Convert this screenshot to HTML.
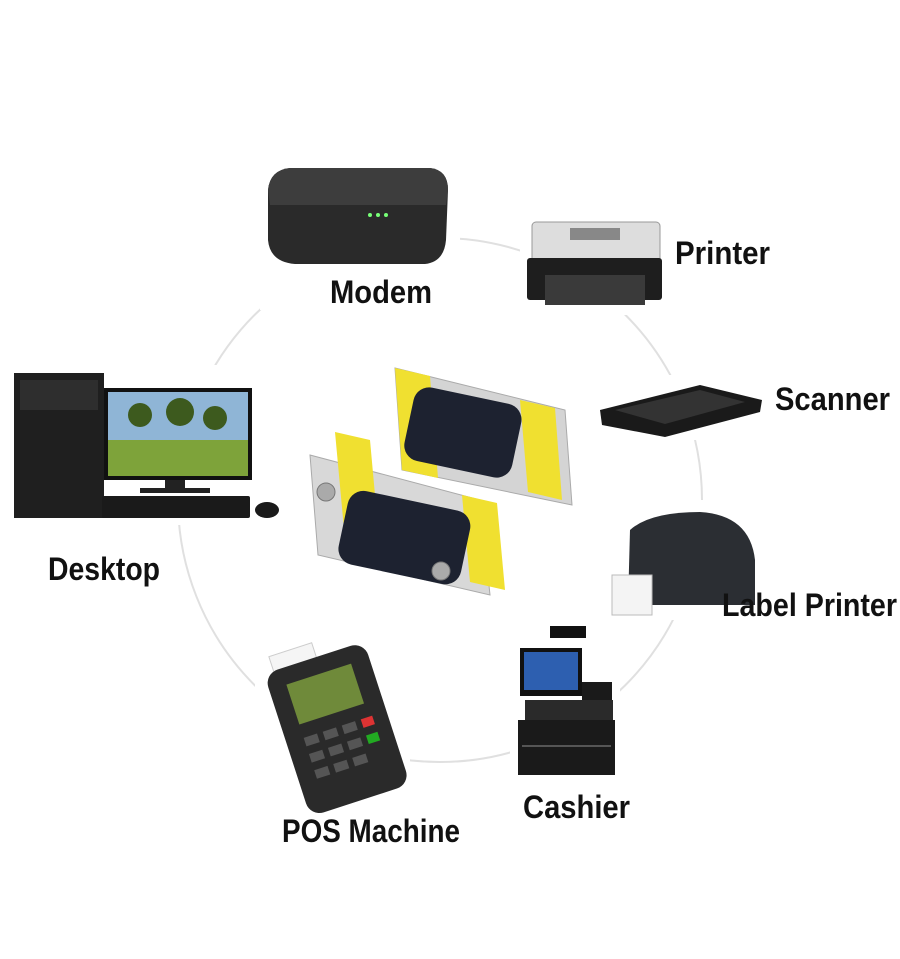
<!DOCTYPE html>
<html><head><meta charset="utf-8">
<style>
html,body{margin:0;padding:0;background:#fff;}
svg{display:block}
text{font-family:"Liberation Sans Narrow","Liberation Sans",sans-serif;font-weight:bold;fill:#111;}
</style></head>
<body>
<svg width="900" height="959" viewBox="0 0 900 959" xmlns="http://www.w3.org/2000/svg">
<rect width="900" height="959" fill="#fff"/>
<circle cx="440" cy="500" r="262" fill="none" stroke="#e0e0e0" stroke-width="2"/>
<g fill="#fff">
<rect x="260" y="150" width="200" height="160"/>
<rect x="520" y="210" width="150" height="105"/>
<rect x="590" y="375" width="180" height="65"/>
<rect x="10" y="365" width="275" height="160"/>
<rect x="610" y="500" width="160" height="120"/>
<rect x="510" y="620" width="110" height="160"/>
<rect x="255" y="625" width="155" height="180"/>
</g>

<!-- Modem -->
<path d="M290 168 L430 168 Q448 170 448 190 L446 240 Q444 262 425 264 L295 264 Q270 262 268 240 L268 190 Q270 170 290 168Z" fill="#2a2a2a"/>
<path d="M290 168 L430 168 Q448 170 448 190 L446 205 L270 205 L268 190 Q270 170 290 168Z" fill="#3d3d3d"/>
<circle cx="370" cy="215" r="2" fill="#7f7"/><circle cx="378" cy="215" r="2" fill="#7f7"/><circle cx="386" cy="215" r="2" fill="#7f7"/>

<!-- Printer -->
<rect x="532" y="222" width="128" height="40" rx="4" fill="#ddd" stroke="#999"/>
<rect x="527" y="258" width="135" height="42" rx="3" fill="#1e1e1e"/>
<rect x="545" y="275" width="100" height="30" fill="#3a3a3a"/>
<rect x="570" y="228" width="50" height="12" fill="#888"/>

<!-- Scanner -->
<polygon points="600,410 700,385 762,400 760,412 665,437 602,425" fill="#1a1a1a"/>
<polygon points="615,410 700,390 745,402 665,424" fill="#333"/>

<!-- Desktop -->
<rect x="14" y="373" width="90" height="145" fill="#1f1f1f"/>
<rect x="20" y="380" width="78" height="30" fill="#2e2e2e"/>
<rect x="104" y="388" width="148" height="92" fill="#111"/>
<rect x="108" y="392" width="140" height="84" fill="#8fb5d6"/>
<rect x="108" y="440" width="140" height="36" fill="#7ea33a"/>
<g fill="#3d5a1e"><circle cx="140" cy="415" r="12"/><circle cx="180" cy="412" r="14"/><circle cx="215" cy="418" r="12"/></g>
<rect x="165" y="480" width="20" height="10" fill="#222"/>
<rect x="140" y="488" width="70" height="5" fill="#222"/>
<rect x="102" y="496" width="148" height="22" rx="2" fill="#1a1a1a"/>
<ellipse cx="267" cy="510" rx="12" ry="8" fill="#1a1a1a"/>

<!-- Adapters -->
<g>
<polygon points="395,368 565,410 572,505 402,470" fill="#d4d4d4" stroke="#aaa"/>
<polygon points="395,368 430,376 438,478 402,470" fill="#f0e030"/>
<polygon points="520,400 555,408 562,500 528,492" fill="#f0e030"/>
<rect x="408" y="395" width="110" height="75" rx="16" fill="#1d2230" transform="rotate(12 463 432)"/>
<polygon points="310,455 480,500 490,595 318,555" fill="#d8d8d8" stroke="#aaa"/>
<polygon points="335,432 370,440 380,550 345,540" fill="#f0e030"/>
<polygon points="462,495 497,503 505,590 470,582" fill="#f0e030"/>
<rect x="342" y="500" width="125" height="75" rx="16" fill="#1d2230" transform="rotate(12 404 537)"/>
<circle cx="326" cy="492" r="9" fill="#aaa" stroke="#777"/>
<circle cx="441" cy="571" r="9" fill="#aaa" stroke="#777"/>
</g>

<!-- Label Printer -->
<path d="M630 530 Q650 512 700 512 Q750 515 755 560 L755 605 L628 605 Z" fill="#2b2e33"/>
<rect x="612" y="575" width="40" height="40" fill="#f4f4f4" stroke="#bbb"/>

<!-- Cashier -->
<rect x="550" y="626" width="36" height="12" fill="#111"/>
<rect x="520" y="648" width="62" height="48" fill="#111"/>
<rect x="524" y="652" width="54" height="38" fill="#2d5fb0"/>
<rect x="582" y="682" width="30" height="22" fill="#1a1a1a"/>
<rect x="525" y="700" width="88" height="20" fill="#2a2a2a"/>
<rect x="518" y="720" width="97" height="55" fill="#1a1a1a"/>
<rect x="522" y="745" width="89" height="2" fill="#555"/>

<!-- POS Machine -->
<g transform="rotate(-18 332 715)">
<rect x="290" y="640" width="45" height="30" fill="#f5f5f5" stroke="#ccc"/>
<rect x="280" y="655" width="105" height="150" rx="14" fill="#2a2a2a"/>
<rect x="298" y="672" width="68" height="42" fill="#6f8a3a"/>
<g fill="#555"><rect x="298" y="728" width="14" height="9"/><rect x="318" y="728" width="14" height="9"/><rect x="338" y="728" width="14" height="9"/>
<rect x="298" y="745" width="14" height="9"/><rect x="318" y="745" width="14" height="9"/><rect x="338" y="745" width="14" height="9"/>
<rect x="298" y="762" width="14" height="9"/><rect x="318" y="762" width="14" height="9"/><rect x="338" y="762" width="14" height="9"/></g>
<rect x="358" y="728" width="12" height="9" fill="#d33"/><rect x="358" y="745" width="12" height="9" fill="#2a2"/>
</g>

<!-- Labels -->
<text x="330" y="303" font-size="32" textLength="102" lengthAdjust="spacingAndGlyphs">Modem</text>
<text x="675" y="264" font-size="32" textLength="95" lengthAdjust="spacingAndGlyphs">Printer</text>
<text x="775" y="410" font-size="32" textLength="115" lengthAdjust="spacingAndGlyphs">Scanner</text>
<text x="48" y="580" font-size="32" textLength="112" lengthAdjust="spacingAndGlyphs">Desktop</text>
<text x="722" y="616" font-size="32" textLength="175" lengthAdjust="spacingAndGlyphs">Label Printer</text>
<text x="523" y="818" font-size="32" textLength="107" lengthAdjust="spacingAndGlyphs">Cashier</text>
<text x="282" y="842" font-size="32" textLength="178" lengthAdjust="spacingAndGlyphs">POS Machine</text>
</svg>
</body></html>
